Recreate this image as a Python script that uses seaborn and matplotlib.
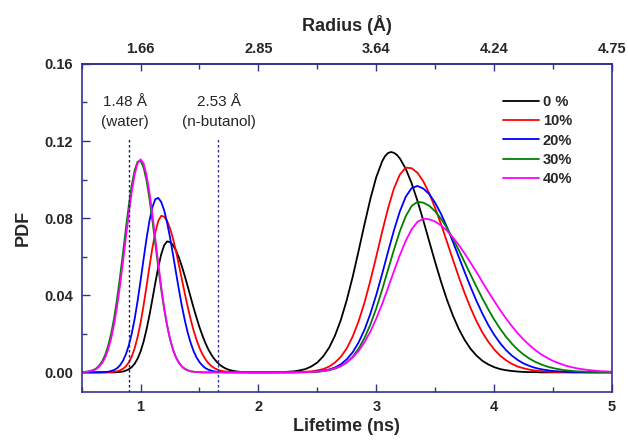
import numpy as np
import pandas as pd
import seaborn as sns
import matplotlib.pyplot as plt
from matplotlib.ticker import MultipleLocator, FormatStrFormatter

# lifetime grid (ns), 0.05 steps from 0.5 to 5.0
lifetime = np.round(np.arange(0.5, 5.0001, 0.05), 2)
# extra in-between points across the narrow first peak (0.625 ... 1.875)
lifetime_mid = np.round(np.arange(0.625, 1.8751, 0.05), 3)

# PDF values, one row per 0.5 ns block
pdf_0 = [0, 0, 0, 0, 0, 0, 0.0001, 0.0004, 0.0016, 0.0045,
         0.0108, 0.0221, 0.0378, 0.0544, 0.0659, 0.0676, 0.0633, 0.0551, 0.0446, 0.0335,
         0.0234, 0.0152, 0.0092, 0.0052, 0.0027, 0.0013, 0.0006, 0.0002, 0.0001, 0,
         0, 0, 0, 0.0001, 0.0001, 0.0003, 0.0005, 0.0010, 0.0017, 0.0031,
         0.0051, 0.0083, 0.0128, 0.0191, 0.0273, 0.0376, 0.0496, 0.0630, 0.0768, 0.0900,
         0.1013, 0.1095, 0.1138, 0.1139, 0.1110, 0.1056, 0.0981, 0.0889, 0.0786, 0.0678,
         0.0571, 0.0469, 0.0376, 0.0295, 0.0225, 0.0168, 0.0122, 0.0087, 0.0060, 0.0041,
         0.0027, 0.0017, 0.0011, 0.0007, 0.0004, 0.0002, 0.0001, 0.0001, 0, 0,
         0, 0, 0, 0, 0, 0, 0, 0, 0, 0,
         0]
pdf_10 = [0, 0, 0, 0, 0, 0.0001, 0.0005, 0.0018, 0.0051, 0.0125,
          0.0257, 0.0444, 0.0644, 0.0785, 0.0808, 0.0747, 0.0630, 0.0484, 0.0340, 0.0217,
          0.0127, 0.0068, 0.0033, 0.0015, 0.0006, 0.0002, 0.0001, 0, 0, 0,
          0, 0, 0, 0, 0, 0, 0.0001, 0.0001, 0.0003, 0.0005,
          0.0010, 0.0017, 0.0030, 0.0051, 0.0081, 0.0125, 0.0186, 0.0265, 0.0362, 0.0476,
          0.0601, 0.0730, 0.0851, 0.0954, 0.1026, 0.1062, 0.1059, 0.1035, 0.0990, 0.0928,
          0.0852, 0.0767, 0.0677, 0.0585, 0.0495, 0.0411, 0.0334, 0.0266, 0.0207, 0.0159,
          0.0119, 0.0087, 0.0063, 0.0044, 0.0030, 0.0021, 0.0014, 0.0009, 0.0006, 0.0004,
          0.0002, 0.0001, 0.0001, 0, 0, 0, 0, 0, 0, 0,
          0]
pdf_20 = [0, 0, 0, 0, 0.0002, 0.0007, 0.0021, 0.0059, 0.0139, 0.0278,
          0.0475, 0.0691, 0.0856, 0.0905, 0.0841, 0.0699, 0.0520, 0.0346, 0.0206, 0.0110,
          0.0053, 0.0022, 0.0009, 0.0003, 0.0001, 0, 0, 0, 0, 0,
          0, 0, 0, 0, 0, 0, 0, 0.0001, 0.0001, 0.0002,
          0.0004, 0.0008, 0.0015, 0.0025, 0.0042, 0.0068, 0.0104, 0.0155, 0.0221, 0.0304,
          0.0402, 0.0511, 0.0626, 0.0737, 0.0835, 0.0911, 0.0956, 0.0967, 0.0953, 0.0924,
          0.0879, 0.0821, 0.0753, 0.0678, 0.0599, 0.0520, 0.0443, 0.0371, 0.0305, 0.0246,
          0.0195, 0.0152, 0.0116, 0.0087, 0.0064, 0.0046, 0.0033, 0.0023, 0.0016, 0.0011,
          0.0007, 0.0005, 0.0003, 0.0002, 0.0001, 0.0001, 0, 0, 0, 0,
          0]
pdf_30 = [0.0001, 0.0004, 0.0012, 0.0036, 0.0091, 0.0200, 0.0378, 0.0616, 0.0866, 0.1049,
          0.1097, 0.0997, 0.0789, 0.0545, 0.0328, 0.0172, 0.0079, 0.0031, 0.0011, 0.0003,
          0.0001, 0, 0, 0, 0, 0, 0, 0, 0, 0,
          0, 0, 0, 0, 0, 0, 0, 0, 0.0001, 0.0002,
          0.0003, 0.0006, 0.0011, 0.0019, 0.0032, 0.0052, 0.0081, 0.0123, 0.0178, 0.0248,
          0.0332, 0.0429, 0.0533, 0.0636, 0.0732, 0.0810, 0.0863, 0.0885, 0.0880, 0.0864,
          0.0835, 0.0796, 0.0749, 0.0694, 0.0634, 0.0571, 0.0507, 0.0444, 0.0384, 0.0327,
          0.0274, 0.0227, 0.0185, 0.0149, 0.0118, 0.0092, 0.0071, 0.0054, 0.0041, 0.0030,
          0.0022, 0.0016, 0.0011, 0.0008, 0.0005, 0.0004, 0.0002, 0.0002, 0.0001, 0.0001,
          0]
pdf_40 = [0.0001, 0.0003, 0.0010, 0.0030, 0.0077, 0.0174, 0.0338, 0.0568, 0.0822, 0.1026,
          0.1105, 0.1026, 0.0822, 0.0568, 0.0338, 0.0174, 0.0077, 0.0030, 0.0010, 0.0003,
          0.0001, 0, 0, 0, 0, 0, 0, 0, 0, 0,
          0, 0, 0, 0, 0, 0, 0, 0.0001, 0.0001, 0.0002,
          0.0004, 0.0007, 0.0013, 0.0021, 0.0033, 0.0051, 0.0077, 0.0111, 0.0156, 0.0212,
          0.0279, 0.0355, 0.0439, 0.0525, 0.0608, 0.0682, 0.0742, 0.0781, 0.0797, 0.0794,
          0.0782, 0.0762, 0.0735, 0.0700, 0.0661, 0.0616, 0.0569, 0.0520, 0.0469, 0.0419,
          0.0371, 0.0324, 0.0280, 0.0240, 0.0203, 0.0170, 0.0141, 0.0115, 0.0093, 0.0075,
          0.0059, 0.0047, 0.0036, 0.0028, 0.0021, 0.0016, 0.0012, 0.0009, 0.0006, 0.0005,
          0.0003]

# values at lifetime_mid
pdf_0_mid = [0, 0, 0, 0, 0.0002, 0.0009, 0.0027, 0.0071, 0.0158, 0.0295,
             0.0464, 0.0612, 0.0679, 0.0660, 0.0596, 0.0500, 0.0390, 0.0283, 0.0191, 0.0119,
             0.0070, 0.0038, 0.0019, 0.0009, 0.0004, 0.0002]
pdf_10_mid = [0, 0, 0.0001, 0.0003, 0.0010, 0.0031, 0.0082, 0.0184, 0.0345, 0.0546,
              0.0726, 0.0812, 0.0786, 0.0694, 0.0558, 0.0410, 0.0275, 0.0168, 0.0094, 0.0048,
              0.0022, 0.0009, 0.0004, 0.0001, 0, 0]
pdf_20_mid = [0, 0.0001, 0.0003, 0.0012, 0.0036, 0.0093, 0.0201, 0.0371, 0.0585, 0.0785,
              0.0898, 0.0884, 0.0777, 0.0612, 0.0430, 0.0271, 0.0153, 0.0077, 0.0035, 0.0014,
              0.0005, 0.0002, 0, 0, 0, 0]
pdf_30_mid = [0.0021, 0.0058, 0.0138, 0.0280, 0.0492, 0.0744, 0.0971, 0.1093, 0.1064, 0.0902,
              0.0667, 0.0430, 0.0242, 0.0118, 0.0051, 0.0019, 0.0006, 0.0002, 0, 0,
              0, 0, 0, 0, 0, 0]
pdf_40_mid = [0.0017, 0.0049, 0.0118, 0.0247, 0.0447, 0.0696, 0.0936, 0.1085, 0.1085, 0.0936,
              0.0696, 0.0447, 0.0247, 0.0118, 0.0049, 0.0017, 0.0005, 0.0001, 0, 0,
              0, 0, 0, 0, 0, 0]

# a few more points round the top of the 0 % long-lifetime peak
lifetime_top = [3.075, 3.125, 3.175]
pdf_0_top = [0.1122, 0.1143, 0.1128]

concentrations = ['0 %', '10%', '20%', '30%', '40%']
colors = ['black', '#ff0000', '#0000ff', '#008000', '#ff00ff']

radius_ticks = [1, 2, 3, 4, 5]
radius_labels = ['1.66', '2.85', '3.64', '4.24', '4.75']

# reference radii marked with dotted lines
ref_lifetimes = [0.9, 1.66]
ref_radius = ['1.48 Å', '2.53 Å']
ref_solvent = ['(water)', '(n-butanol)']

coarse = [pdf_0, pdf_10, pdf_20, pdf_30, pdf_40]
fine = [pdf_0_mid, pdf_10_mid, pdf_20_mid, pdf_30_mid, pdf_40_mid]
frames = []
for name, vals, mids in zip(concentrations, coarse, fine):
    frames.append(pd.DataFrame({'Lifetime': lifetime, 'PDF': vals, 'Conc': name}))
    frames.append(pd.DataFrame({'Lifetime': lifetime_mid, 'PDF': mids, 'Conc': name}))
frames.append(pd.DataFrame({'Lifetime': lifetime_top, 'PDF': pdf_0_top, 'Conc': '0 %'}))
df = pd.concat(frames, ignore_index=True).sort_values(['Conc', 'Lifetime'])

sns.set_style('ticks')
plt.rcParams['font.family'] = ['Liberation Sans', 'DejaVu Sans']
plt.rcParams['font.weight'] = 'bold'
spine_col = '#33338c'

fig = plt.figure(figsize=(6.28, 4.41), dpi=100)
ax = fig.add_axes([0.130, 0.112, 0.8445, 0.743])

sns.lineplot(data=df, x='Lifetime', y='PDF', hue='Conc', hue_order=concentrations,
             palette=colors, estimator=None, linewidth=1.3, ax=ax)

for t, c in zip(ref_lifetimes, ['#1c1c60', '#3030a0']):
    ax.vlines(t, -0.01, 0.121, colors=c, linestyles=(0, (1.8, 1.8)), linewidth=1.0)
for t, r, s in zip([0.87, 1.665], ref_radius, ref_solvent):
    ax.text(t, 0.1405, r, ha='center', va='center', fontsize=11, fontweight='normal')
    ax.text(t, 0.1300, s, ha='center', va='center', fontsize=11, fontweight='normal')

ax.set_xlim(0.5, 5)
ax.set_ylim(-0.01, 0.16)
ax.set_xticks([1, 2, 3, 4, 5])
ax.xaxis.set_minor_locator(MultipleLocator(0.5))
ax.set_yticks([0, 0.04, 0.08, 0.12, 0.16])
ax.yaxis.set_minor_locator(MultipleLocator(0.02))
ax.yaxis.set_major_formatter(FormatStrFormatter('%.2f'))
ax.tick_params(which='both', direction='in', color=spine_col, labelsize=10.5, pad=6,
               top=False, right=False)
ax.tick_params(which='major', length=6, width=1)
ax.tick_params(which='minor', length=3.5, width=1)
for sp in ax.spines.values():
    sp.set_color(spine_col)
    sp.set_linewidth(1.2)

ax.set_xlabel('Lifetime (ns)', fontsize=13, fontweight='bold', labelpad=3)
ax.set_ylabel('PDF', fontsize=13, fontweight='bold', labelpad=9)

top = ax.secondary_xaxis('top')
top.set_xticks(radius_ticks, labels=radius_labels)
top.xaxis.set_minor_locator(MultipleLocator(0.5))
top.tick_params(which='both', direction='in', color=spine_col, labelsize=10.5, pad=6)
top.tick_params(which='major', length=5, width=1)
top.tick_params(which='minor', length=3.5, width=1)
top.spines['top'].set_color(spine_col)
top.spines['top'].set_linewidth(1.2)
top.set_xlabel('Radius (Å)', fontsize=13, fontweight='bold', labelpad=8)

handles, labels = ax.get_legend_handles_labels()
ax.legend(handles, labels, loc='upper left', bbox_to_anchor=(0.794, 0.905),
          frameon=False, fontsize=10.5, handlelength=2.5, handletextpad=0.25,
          labelspacing=0.36, borderpad=0, borderaxespad=0)

fig.savefig('out.png', dpi=100)
